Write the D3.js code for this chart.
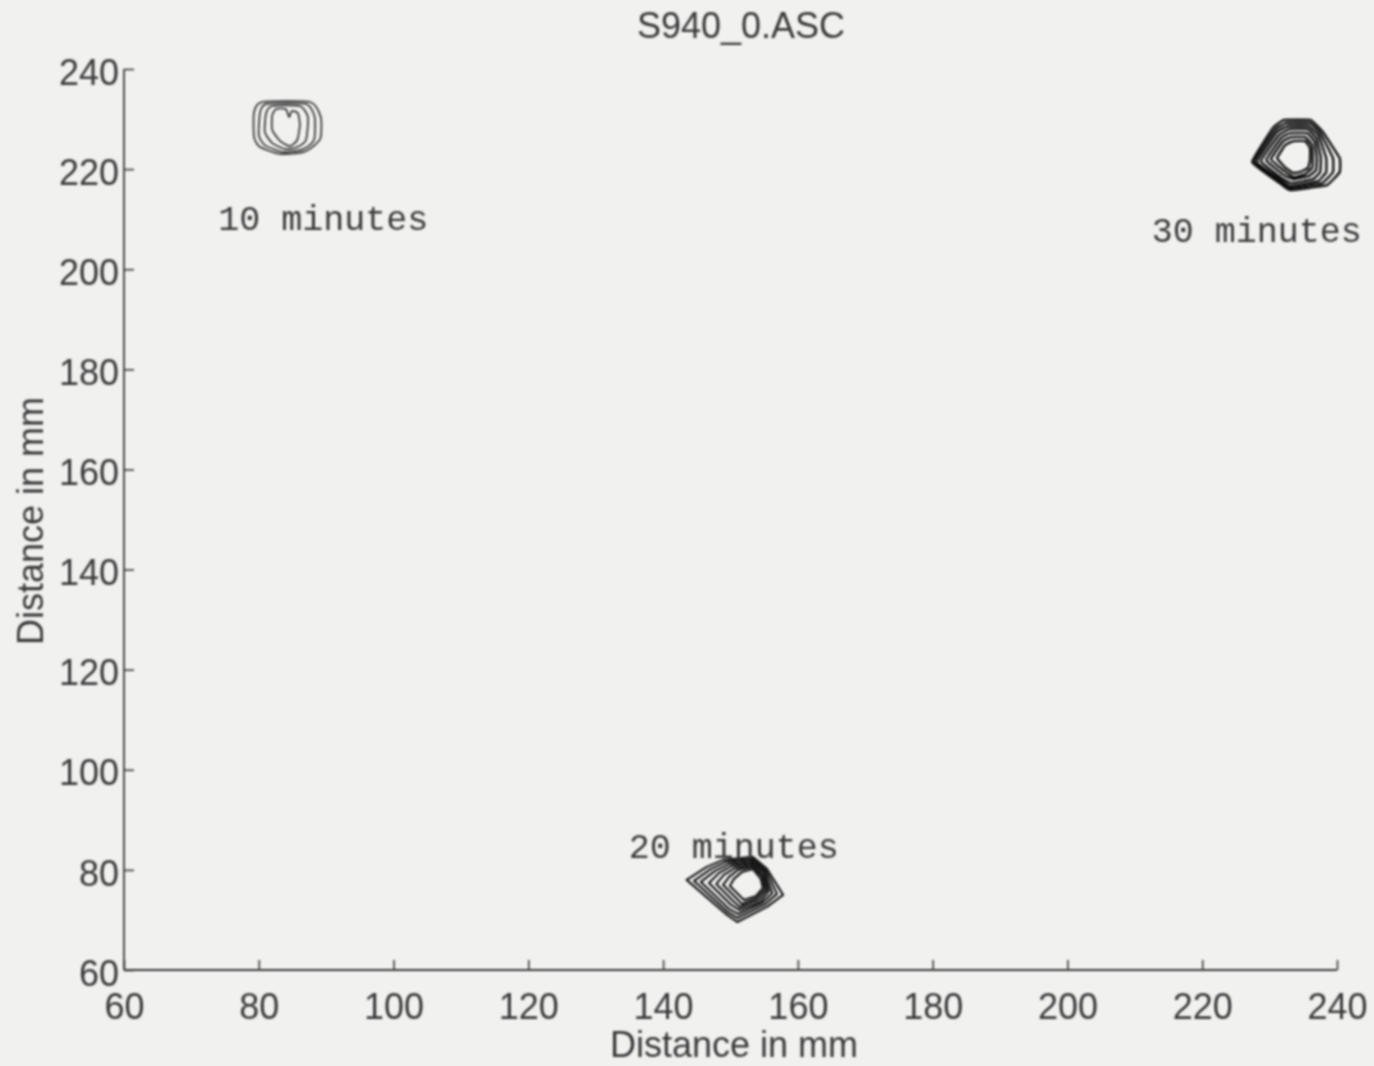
<!DOCTYPE html>
<html>
<head>
<meta charset="utf-8">
<script src="https://cdn.jsdelivr.net/npm/d3@7"></script>
<style>
  html, body { margin: 0; padding: 0; background: #f1f1f0; }
  svg { display: block; }
</style>
</head>
<body>
<svg id="chart" width="1374" height="1066"></svg>
<script>
// Axis ticks (mm)
const xTicks = [60, 80, 100, 120, 140, 160, 180, 200, 220, 240];
const yTicks = [60, 80, 100, 120, 140, 160, 180, 200, 220, 240];

// Contour rings of the spot after 10 minutes, outermost first: [x mm, y mm]
const spot10 = [
  [[80.5,233.4],[87.6,233.4],[89.2,230.4],[89.2,226.4],[88.3,224.8],[86.6,223.4],[83.2,223.0],[80.2,224.4],[79.3,226.4],[79.3,231.4]],
  [[81.1,233.0],[87.0,233.0],[88.3,230.4],[88.2,225.8],[86.6,224.0],[83.6,223.4],[80.9,224.8],[80.0,226.8],[80.2,231.4]],
  [[82.0,232.6],[86.1,232.6],[87.3,230.4],[87.0,225.8],[85.7,224.4],[83.9,224.0],[82.0,225.2],[80.9,227.4],[81.1,231.2]],
  [[82.6,232.0],[84.0,232.0],[84.5,230.4],[84.9,231.6],[85.8,231.2],[86.1,228.8],[85.7,225.8],[84.6,224.6],[83.2,225.6],[82.0,227.8],[82.0,230.8]]
];

// Contour rings of the spot after 20 minutes
const spot20 = [
  [[143.5,78.0],[146.5,80.6],[148.9,82.0],[153.3,82.6],[155.4,80.2],[157.8,75.0],[155.4,72.6],[151.0,69.6],[149.5,71.0]],
  [[144.6,77.8],[147.1,80.2],[149.3,81.6],[153.3,82.2],[155.3,79.8],[156.9,75.2],[155.0,73.0],[151.0,70.4],[149.6,71.6]],
  [[145.6,77.6],[147.7,79.8],[149.8,81.2],[153.3,81.8],[155.1,79.6],[156.2,75.4],[154.7,73.4],[151.1,71.2],[149.8,72.2]],
  [[146.8,77.4],[148.3,79.4],[150.2,80.8],[153.3,81.4],[155.0,79.4],[155.7,75.8],[154.4,73.6],[151.3,72.0],[150.1,73.0]],
  [[147.9,77.2],[149.0,79.0],[150.7,80.4],[153.3,81.0],[154.8,79.0],[155.4,76.0],[154.1,74.0],[151.4,72.6],[150.4,73.8]],
  [[148.9,77.0],[149.8,78.6],[151.1,80.0],[153.3,80.6],[154.7,78.6],[155.1,76.2],[153.9,74.4],[151.7,73.2],[150.7,74.6]],
  [[149.9,76.8],[150.5,78.2],[151.7,79.6],[153.3,80.2],[154.5,78.2],[154.8,76.4],[153.8,74.8],[152.0,74.0],[151.1,75.2]]
];

// Contour rings of the spot after 30 minutes
const spot30 = [
  [[227.4,221.4],[230.5,228.2],[232.1,229.8],[236.1,229.8],[237.9,227.4],[240.4,222.2],[240.4,219.4],[238.5,216.8],[233.0,215.8],[231.5,217.2]],
  [[227.7,221.4],[230.8,227.8],[232.4,229.2],[236.0,229.2],[237.6,227.0],[239.4,222.2],[239.4,219.4],[237.8,217.2],[233.0,216.2],[231.5,217.6]],
  [[228.1,221.4],[231.1,227.4],[232.7,228.6],[235.8,228.6],[237.3,226.6],[238.4,222.2],[238.4,219.4],[237.2,217.6],[233.2,216.6],[231.7,217.8]],
  [[228.7,221.6],[231.4,226.8],[232.9,228.0],[235.7,228.0],[237.0,226.0],[237.6,222.2],[237.5,219.4],[236.4,218.0],[233.3,217.2],[231.8,218.2]],
  [[229.5,221.8],[231.7,226.2],[233.0,227.2],[235.6,227.2],[236.7,225.4],[237.0,222.2],[236.9,219.8],[235.8,218.6],[233.5,218.0],[232.1,218.8]],
  [[230.2,222.0],[232.0,225.6],[233.2,226.4],[235.3,226.4],[236.3,224.8],[236.4,222.2],[236.3,220.2],[235.3,219.0],[233.6,218.4],[232.4,219.4]],
  [[231.1,222.2],[232.3,224.8],[233.5,225.6],[235.3,225.6],[236.0,224.2],[236.0,221.8],[235.7,220.2],[234.5,219.4],[233.5,219.2],[232.4,220.2]]
];

// Time labels, anchored at their start / baseline in mm
const spotLabels = [
  { text: "10 minutes", x: 74.0, y: 207.8 },
  { text: "20 minutes", x: 134.9, y: 82.4 },
  { text: "30 minutes", x: 212.5, y: 205.4 }
];

const svg = d3.select("#chart");

const defs = svg.append("defs");
defs.append("filter").attr("id", "soft")
  .append("feGaussianBlur").attr("stdDeviation", 0.8);

const root = svg.append("g").attr("filter", "url(#soft)");

const x = d3.scaleLinear().domain([60, 240]).range([124, 1337]);
const y = d3.scaleLinear().domain([60, 240]).range([970, 69]);

const ink = "#3b3b3b";
const sans = "'Liberation Sans', Arial, Helvetica, sans-serif";
const mono = "'Liberation Mono', 'Courier New', monospace";

// Axes: ticks point inward, labels outside
const xAxis = d3.axisBottom(x).tickValues(xTicks).tickSize(-10).tickPadding(23).tickFormat(d3.format("d"));
const yAxis = d3.axisLeft(y).tickValues(yTicks).tickSize(-10).tickPadding(5).tickFormat(d3.format("d"));

const gx = root.append("g").attr("transform", `translate(0,${y(60)})`).call(xAxis);
const gy = root.append("g").attr("transform", `translate(${x(60)},0)`).call(yAxis);

gx.select(".domain").attr("d", `M${x(60)},0H${x(240)}`);
gy.select(".domain").attr("d", `M0,${y(240)}V${y(60)}`);
[gx, gy].forEach(g => {
  g.select(".domain").attr("stroke", ink).attr("stroke-width", 1.8);
  g.selectAll(".tick line").attr("stroke", ink).attr("stroke-width", 1.6);
  g.selectAll(".tick text").attr("fill", ink).style("font-family", sans).style("font-size", "36px");
});
gx.selectAll(".tick text").attr("dy", "0.71em");
gy.selectAll(".tick text").attr("dy", "0.42em");

// Title and axis titles
root.append("text").attr("x", 741).attr("y", 38).attr("text-anchor", "middle")
  .attr("fill", ink).style("font-family", sans).style("font-size", "36px").text("S940_0.ASC");

root.append("text").attr("x", 734).attr("y", 1057).attr("text-anchor", "middle")
  .attr("fill", ink).style("font-family", sans).style("font-size", "36px").text("Distance in mm");

root.append("text").attr("transform", `translate(43,${521}) rotate(-90)`).attr("text-anchor", "middle")
  .attr("fill", ink).style("font-family", sans).style("font-size", "36px").text("Distance in mm");

// Contour rings
const smooth = d3.line().x(d => x(d[0])).y(d => y(d[1])).curve(d3.curveCardinalClosed.tension(0.4));
const rounded = d3.line().x(d => x(d[0])).y(d => y(d[1])).curve(d3.curveCardinalClosed.tension(0.75));
const sharp = d3.line().x(d => x(d[0])).y(d => y(d[1])).curve(d3.curveLinearClosed);

const spots = [
  { rings: spot10, line: smooth, color: "#333", width: 1.7 },
  { rings: spot20, line: sharp, color: "#151515", width: 2.1 },
  { rings: spot30, line: rounded, color: "#111", width: 2.4 }
];

spots.forEach(s => {
  root.append("g").selectAll("path").data(s.rings).join("path")
    .attr("d", s.line)
    .attr("fill", "none")
    .attr("stroke", s.color)
    .attr("stroke-width", s.width)
    .attr("stroke-linejoin", "round");
});

// Time labels
root.append("g").selectAll("text").data(spotLabels).join("text")
  .attr("x", d => x(d.x)).attr("y", d => y(d.y))
  .attr("fill", ink)
  .style("font-family", mono).style("font-size", "35px")
  .text(d => d.text);
</script>
</body>
</html>
